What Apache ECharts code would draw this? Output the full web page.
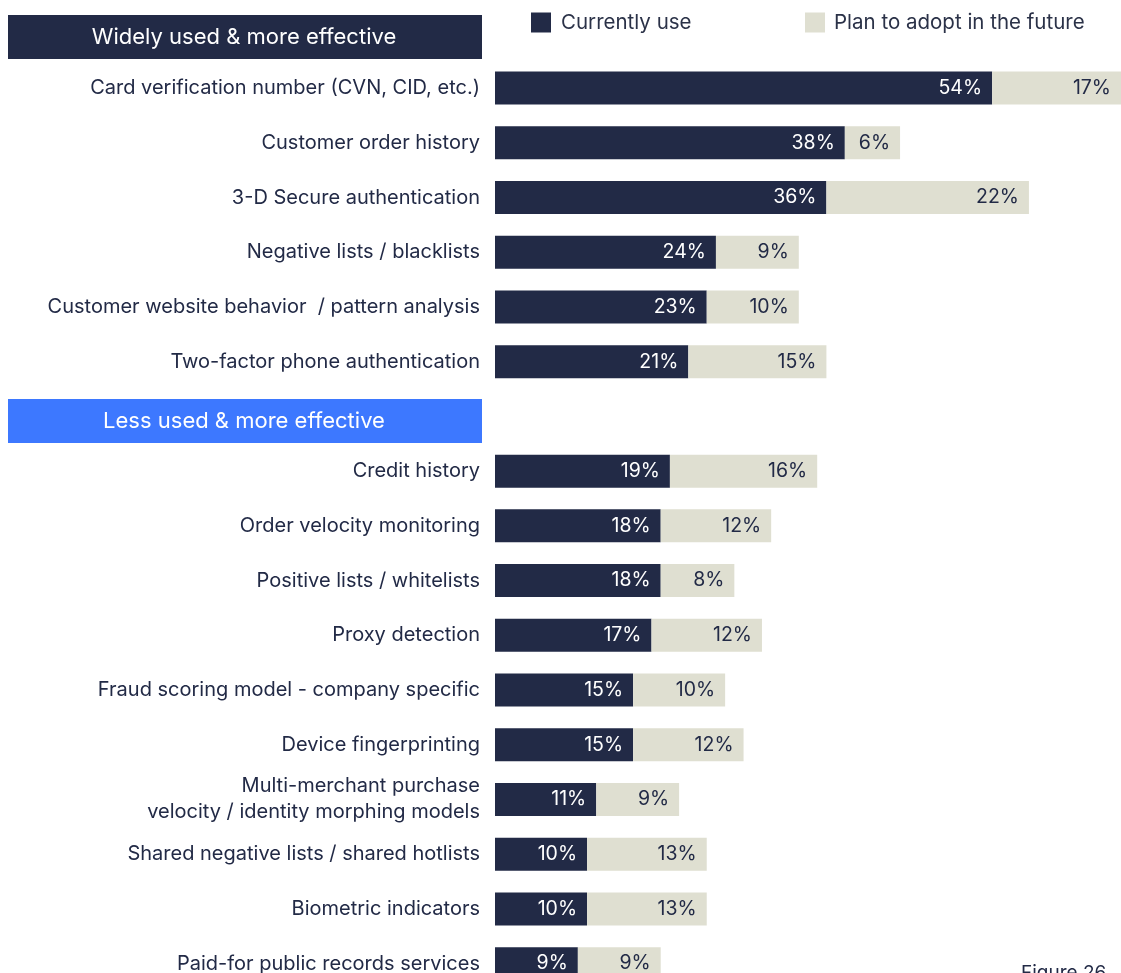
<!DOCTYPE html>
<html>
<head>
<meta charset="utf-8">
<script src="https://cdn.jsdelivr.net/npm/echarts@6/dist/echarts.min.js"></script>
<style>
  html, body { margin: 0; padding: 0; background: #fff; overflow: hidden; }
  /* taller than the window: the bottom row is cut off like in the source figure */
  #chart { width: 1121px; height: 991px; }
</style>
</head>
<body>
<div id="chart"></div>
<script>
// rows top to bottom, '' is the gap row under the second header
var categories = [
    'Card verification number (CVN, CID, etc.)',
    'Customer order history',
    '3-D Secure authentication',
    'Negative lists / blacklists',
    'Customer website behavior  / pattern analysis',
    'Two-factor phone authentication',
    '',
    'Credit history',
    'Order velocity monitoring',
    'Positive lists / whitelists',
    'Proxy detection',
    'Fraud scoring model - company specific',
    'Device fingerprinting',
    'Multi-merchant purchase\nvelocity / identity morphing models',
    'Shared negative lists / shared hotlists',
    'Biometric indicators',
    'Paid-for public records services'
];
var currentUse = [54, 38, 36, 24, 23, 21, null, 19, 18, 18, 17, 15, 15, 11, 10, 10, 9];
var planToAdopt = [17, 6, 22, 9, 10, 15, null, 16, 12, 8, 12, 10, 12, 9, 13, 13, 9];
var seriesNames = ['Currently use', 'Plan to adopt in the future'];
var groupTitles = ['Widely used & more effective', 'Less used & more effective'];
var footNote = 'Figure 26';

var navy = '#222a46';
var beige = '#dfdfd1';
var blue = '#3d78ff';
var font = 'Inter, "Noto Sans", sans-serif';

var myChart = echarts.init(document.getElementById('chart'));

myChart.setOption({
    backgroundColor: '#fff',
    animation: false,
    legend: [
        {
            left: 531,
            top: 12,
            padding: 0,
            icon: 'rect',
            itemWidth: 20,
            itemHeight: 20,
            data: [seriesNames[0]],
            textStyle: { color: '#2b3248', fontSize: 20.5, fontFamily: font, padding: [0, 0, 0, 5] }
        },
        {
            left: 805,
            top: 12,
            padding: 0,
            icon: 'rect',
            itemWidth: 20,
            itemHeight: 20,
            data: [seriesNames[1]],
            textStyle: { color: '#2b3248', fontSize: 20.5, fontFamily: font, padding: [0, 0, 0, 4] }
        }
    ],
    grid: {
        left: 495,
        right: 0,
        top: 60.7,
        bottom: 0,
        containLabel: false
    },
    xAxis: {
        type: 'value',
        min: 0,
        max: 68,
        show: false
    },
    yAxis: {
        type: 'category',
        inverse: true,
        data: categories,
        axisLine: { show: false },
        axisTick: { show: false },
        splitLine: { show: false },
        axisLabel: {
            color: navy,
            fontSize: 20,
            fontFamily: font,
            margin: 15,
            lineHeight: 26,
            align: 'right'
        }
    },
    series: [
        {
            name: seriesNames[0],
            type: 'bar',
            stack: 'total',
            data: currentUse,
            barWidth: 33,
            itemStyle: { color: navy },
            label: {
                show: true,
                position: 'insideRight',
                distance: 10,
                color: '#fff',
                fontSize: 19.5,
                fontFamily: font,
                formatter: '{c}%'
            }
        },
        {
            name: seriesNames[1],
            type: 'bar',
            stack: 'total',
            data: planToAdopt,
            barWidth: 33,
            itemStyle: { color: beige },
            label: {
                show: true,
                position: 'insideRight',
                distance: 10,
                color: navy,
                fontSize: 19.5,
                fontFamily: font,
                formatter: '{c}%'
            }
        }
    ],
    graphic: [
        {
            type: 'rect',
            left: 8, top: 15,
            shape: { width: 474, height: 44 },
            style: { fill: navy }
        },
        {
            type: 'text',
            x: 244, y: 37,
            style: {
                text: groupTitles[0], fill: '#fff', fontSize: 22, fontFamily: font,
                align: 'center', verticalAlign: 'middle'
            }
        },
        {
            type: 'rect',
            left: 8, top: 399,
            shape: { width: 474, height: 44 },
            style: { fill: blue }
        },
        {
            type: 'text',
            x: 244, y: 421,
            style: {
                text: groupTitles[1], fill: '#fff', fontSize: 22, fontFamily: font,
                align: 'center', verticalAlign: 'middle'
            }
        },
        {
            type: 'text',
            x: 1021, y: 964,
            style: {
                text: footNote, fill: navy, fontSize: 19, fontFamily: font,
                align: 'left', verticalAlign: 'top'
            }
        }
    ]
});
</script>
</body>
</html>
